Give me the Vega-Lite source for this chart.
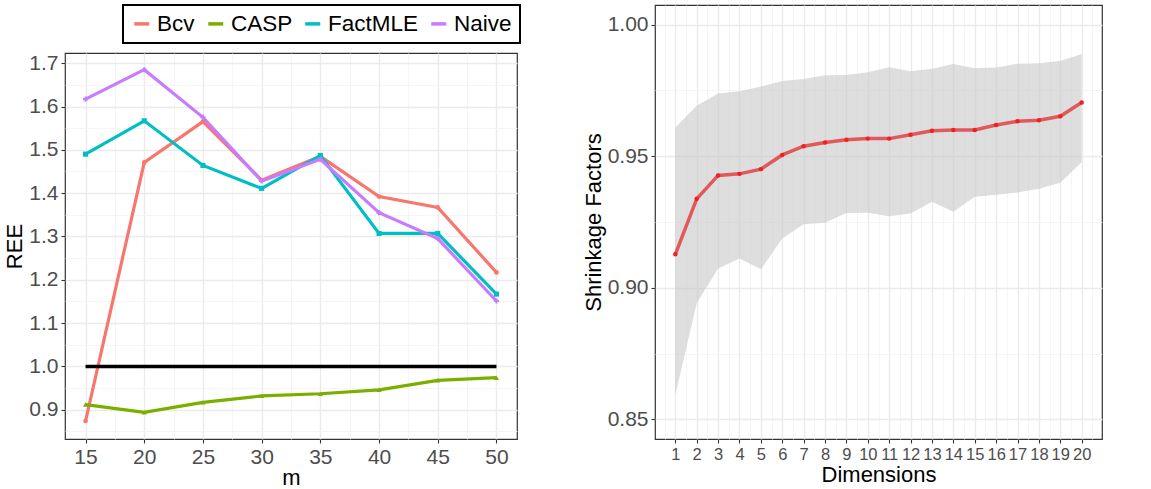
{
  "$schema": "https://vega.github.io/schema/vega-lite/v6.json",
  "padding": {"left": 3, "top": 4, "right": 5, "bottom": 2},
  "background": "white",
  "config": {
    "font": "Liberation Sans",
    "view": {"stroke": "#333333", "strokeWidth": 1.2},
    "axis": {"domain": false, "tickColor": "#333333", "tickSize": 4, "tickWidth": 1.1, "labelColor": "#4D4D4D", "labelFontSize": 21, "titleFontSize": 22, "titleFontWeight": "normal", "titleColor": "black", "labelPadding": 3, "titlePadding": 2, "labelOverlap": false, "labelFlush": false},
    "legend": {"strokeWidth": 2},
    "concat": {"spacing": 60}
  },
  "datasets": {
    "ree": [
      {"m": 15, "method": "Bcv", "REE": 0.874},
      {"m": 20, "method": "Bcv", "REE": 1.471},
      {"m": 25, "method": "Bcv", "REE": 1.565},
      {"m": 30, "method": "Bcv", "REE": 1.430},
      {"m": 35, "method": "Bcv", "REE": 1.485},
      {"m": 40, "method": "Bcv", "REE": 1.392},
      {"m": 45, "method": "Bcv", "REE": 1.367},
      {"m": 50, "method": "Bcv", "REE": 1.217},
      {"m": 15, "method": "CASP", "REE": 0.912},
      {"m": 20, "method": "CASP", "REE": 0.894},
      {"m": 25, "method": "CASP", "REE": 0.917},
      {"m": 30, "method": "CASP", "REE": 0.932},
      {"m": 35, "method": "CASP", "REE": 0.937},
      {"m": 40, "method": "CASP", "REE": 0.946},
      {"m": 45, "method": "CASP", "REE": 0.968},
      {"m": 50, "method": "CASP", "REE": 0.974},
      {"m": 15, "method": "FactMLE", "REE": 1.490},
      {"m": 20, "method": "FactMLE", "REE": 1.567},
      {"m": 25, "method": "FactMLE", "REE": 1.464},
      {"m": 30, "method": "FactMLE", "REE": 1.411},
      {"m": 35, "method": "FactMLE", "REE": 1.487},
      {"m": 40, "method": "FactMLE", "REE": 1.307},
      {"m": 45, "method": "FactMLE", "REE": 1.307},
      {"m": 50, "method": "FactMLE", "REE": 1.167},
      {"m": 15, "method": "Naive", "REE": 1.617},
      {"m": 20, "method": "Naive", "REE": 1.685},
      {"m": 25, "method": "Naive", "REE": 1.575},
      {"m": 30, "method": "Naive", "REE": 1.428},
      {"m": 35, "method": "Naive", "REE": 1.478},
      {"m": 40, "method": "Naive", "REE": 1.355},
      {"m": 45, "method": "Naive", "REE": 1.295},
      {"m": 50, "method": "Naive", "REE": 1.151}
    ],
    "shrink": [
      {"dim": 1, "mean": 0.9127, "lo": 0.8592, "hi": 0.9609},
      {"dim": 2, "mean": 0.9338, "lo": 0.8941, "hi": 0.9692},
      {"dim": 3, "mean": 0.9427, "lo": 0.9073, "hi": 0.9739},
      {"dim": 4, "mean": 0.9433, "lo": 0.9111, "hi": 0.9747},
      {"dim": 5, "mean": 0.9451, "lo": 0.9070, "hi": 0.9765},
      {"dim": 6, "mean": 0.9505, "lo": 0.9187, "hi": 0.9786},
      {"dim": 7, "mean": 0.9538, "lo": 0.9241, "hi": 0.9794},
      {"dim": 8, "mean": 0.9552, "lo": 0.9247, "hi": 0.9808},
      {"dim": 9, "mean": 0.9563, "lo": 0.9284, "hi": 0.9809},
      {"dim": 10, "mean": 0.9567, "lo": 0.9285, "hi": 0.9819},
      {"dim": 11, "mean": 0.9567, "lo": 0.9272, "hi": 0.9838},
      {"dim": 12, "mean": 0.9582, "lo": 0.9282, "hi": 0.9823},
      {"dim": 13, "mean": 0.9597, "lo": 0.9327, "hi": 0.9833},
      {"dim": 14, "mean": 0.9600, "lo": 0.9289, "hi": 0.9851},
      {"dim": 15, "mean": 0.9600, "lo": 0.9346, "hi": 0.9835},
      {"dim": 16, "mean": 0.9619, "lo": 0.9354, "hi": 0.9837},
      {"dim": 17, "mean": 0.9633, "lo": 0.9362, "hi": 0.9852},
      {"dim": 18, "mean": 0.9637, "lo": 0.9376, "hi": 0.9854},
      {"dim": 19, "mean": 0.9652, "lo": 0.9399, "hi": 0.9862},
      {"dim": 20, "mean": 0.9704, "lo": 0.9477, "hi": 0.9889}
    ]
  },
  "hconcat": [
    {
      "spacing": 7,
      "resolve": {"legend": {"color": "independent"}},
      "vconcat": [
        {
          "width": 452,
          "height": 36,
          "view": {"stroke": null},
          "data": {"name": "ree"},
          "mark": {"type": "line", "opacity": 0},
          "encoding": {
            "x": {"field": "m", "type": "quantitative", "axis": null, "scale": {"domain": [13.25, 51.75], "nice": false, "zero": false}},
            "y": {"field": "REE", "type": "quantitative", "axis": null, "scale": {"domain": [0.8325, 1.7235], "nice": false, "zero": false}},
            "color": {"field": "method", "type": "nominal",
              "scale": {"domain": ["Bcv", "CASP", "FactMLE", "Naive"], "range": ["#F8766D", "#7CAE00", "#00BFC4", "#C77CFF"]},
              "legend": {"orient": "none", "legendX": 58, "legendY": 0, "direction": "horizontal", "title": null,
                "strokeColor": "black", "padding": 7.5, "labelFontSize": 22.5, "labelColor": "black", "symbolOpacity": 1,
                "symbolType": "stroke", "symbolSize": 225, "symbolStrokeWidth": 3.5, "columnPadding": 5, "labelOffset": 4, "labelLimit": 200}}
          }
        },
        {
          "width": 452,
          "height": 386,
          "data": {"name": "ree"},
          "encoding": {
            "x": {"field": "m", "type": "quantitative", "title": "m",
              "scale": {"domain": [13.25, 51.75], "nice": false, "zero": false},
              "axis": {"values": [15, 17.5, 20, 22.5, 25, 27.5, 30, 32.5, 35, 37.5, 40, 42.5, 45, 47.5, 50],
                "titlePadding": 0,
                "labelExpr": "datum.value % 5 != 0 ? '' : datum.label",
                "tickOpacity": {"condition": {"test": "datum.value % 5 != 0", "value": 0}, "value": 1},
                "gridColor": {"condition": {"test": "datum.value % 5 != 0", "value": "#F3F3F3"}, "value": "#EBEBEB"},
                "gridWidth": {"condition": {"test": "datum.value % 5 != 0", "value": 0.8}, "value": 1.4}}},
            "y": {"field": "REE", "type": "quantitative", "title": "REE",
              "scale": {"domain": [0.8325, 1.7235], "nice": false, "zero": false},
              "axis": {"values": [0.85, 0.9, 0.95, 1, 1.05, 1.1, 1.15, 1.2, 1.25, 1.3, 1.35, 1.4, 1.45, 1.5, 1.55, 1.6, 1.65, 1.7],
                "format": ".1f",
                "labelExpr": "round(datum.value*20)%2==1 ? '' : datum.label",
                "tickOpacity": {"condition": {"test": "round(datum.value*20)%2==1", "value": 0}, "value": 1},
                "gridColor": {"condition": {"test": "round(datum.value*20)%2==1", "value": "#F3F3F3"}, "value": "#EBEBEB"},
                "gridWidth": {"condition": {"test": "round(datum.value*20)%2==1", "value": 0.8}, "value": 1.4}}}
          },
          "layer": [
            {
              "mark": {"type": "line", "strokeWidth": 3.2},
              "encoding": {
                "color": {"field": "method", "type": "nominal", "legend": null}
              }
            },
            {
              "transform": [{"filter": "datum.method == 'Bcv'"}],
              "mark": {"type": "point", "filled": true, "size": 22, "opacity": 1, "shape": "circle", "color": "#F8766D"},
              "encoding": {}
            },
            {
              "transform": [{"filter": "datum.method == 'CASP'"}],
              "mark": {"type": "point", "filled": true, "size": 26, "opacity": 1, "shape": "triangle-up", "color": "#7CAE00"},
              "encoding": {}
            },
            {
              "transform": [{"filter": "datum.method == 'FactMLE'"}],
              "mark": {"type": "point", "filled": true, "size": 26, "opacity": 1, "shape": "square", "color": "#00BFC4"},
              "encoding": {}
            },
            {
              "transform": [{"filter": "datum.method == 'Naive'"}],
              "mark": {"type": "point", "filled": true, "size": 26, "opacity": 1, "shape": "cross", "color": "#C77CFF"},
              "encoding": {}
            },
            {
              "data": {"values": [{"m": 15, "m_end": 50, "REE": 1}]},
              "mark": {"type": "rule", "strokeWidth": 3.5, "color": "black"},
              "encoding": {"x2": {"field": "m_end"}}
            }
          ]
        }
      ]
    },
    {
      "width": 447,
      "height": 434,
      "data": {"name": "shrink"},
      "encoding": {
        "x": {"field": "dim", "type": "quantitative", "title": "Dimensions",
          "scale": {"domain": [0.05, 20.95], "nice": false, "zero": false},
          "axis": {"values": [0.5, 1, 1.5, 2, 2.5, 3, 3.5, 4, 4.5, 5, 5.5, 6, 6.5, 7, 7.5, 8, 8.5, 9, 9.5, 10, 10.5, 11, 11.5, 12, 12.5, 13, 13.5, 14, 14.5, 15, 15.5, 16, 16.5, 17, 17.5, 18, 18.5, 19, 19.5, 20, 20.5],
            "format": ".0f",
            "labelFontSize": 16.5,
            "labelExpr": "datum.value % 1 != 0 ? '' : datum.label",
            "tickOpacity": {"condition": {"test": "datum.value % 1 != 0", "value": 0}, "value": 1},
            "gridColor": {"condition": {"test": "datum.value % 1 != 0", "value": "#F3F3F3"}, "value": "#EBEBEB"},
            "gridWidth": {"condition": {"test": "datum.value % 1 != 0", "value": 0.8}, "value": 1.4}}}
      },
      "layer": [
        {
          "mark": {"type": "area", "color": "#C8C8C8", "opacity": 0.6},
          "encoding": {
            "y": {"field": "lo", "type": "quantitative", "title": "Shrinkage Factors",
              "scale": {"domain": [0.8425, 1.0075], "nice": false, "zero": false},
              "axis": {"values": [0.85, 0.875, 0.9, 0.925, 0.95, 0.975, 1.0],
                "format": ".2f",
                "labelExpr": "round(datum.value*40)%2==1 ? '' : datum.label",
                "tickOpacity": {"condition": {"test": "round(datum.value*40)%2==1", "value": 0}, "value": 1},
                "gridColor": {"condition": {"test": "round(datum.value*40)%2==1", "value": "#F3F3F3"}, "value": "#EBEBEB"},
                "gridWidth": {"condition": {"test": "round(datum.value*40)%2==1", "value": 0.8}, "value": 1.4}}},
            "y2": {"field": "hi"}
          }
        },
        {
          "mark": {"type": "line", "color": "#E0595B", "strokeWidth": 3.5},
          "encoding": {
            "y": {"field": "mean", "type": "quantitative"}
          }
        },
        {
          "mark": {"type": "point", "filled": true, "color": "#EE2222", "size": 20, "opacity": 1},
          "encoding": {
            "y": {"field": "mean", "type": "quantitative"}
          }
        }
      ]
    }
  ]
}
